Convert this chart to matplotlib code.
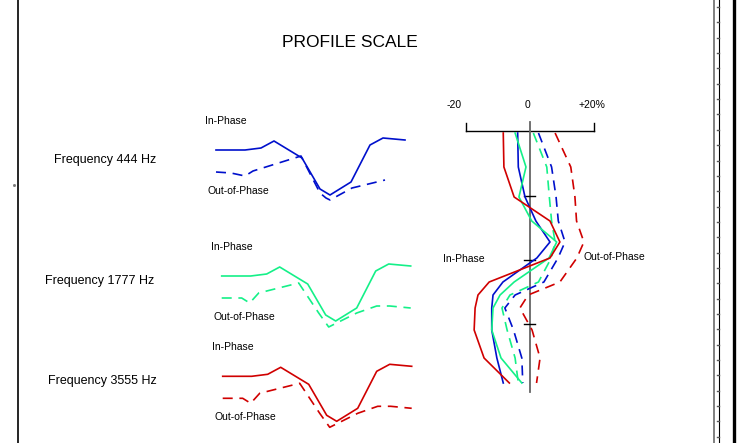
import numpy as np
import matplotlib.pyplot as plt

plt.rcParams['font.family'] = ['Liberation Sans', 'DejaVu Sans']

W, H = 739, 443

# ---- left: profile shapes per frequency (station offset, amplitude)
station_x = [0, 29, 45, 58, 86, 104, 114, 135, 154, 167, 189]
in_phase = [0, 0, 2, 9, -8, -39, -45, -32, 5, 12, 10]

oop_x = [0, 20, 28, 37, 77, 97, 107, 115, 135, 155, 168, 189]
oop_y = [-22, -22, -27, -17, -7, -37, -51, -47, -37, -30, -30, -32]

oop_x_444 = [0, 15, 29, 37, 85, 104, 110, 114, 136, 169]
oop_y_444 = [-22, -23, -26, -21, -6, -43, -48, -50, -38, -30]

freq_labels = ['Frequency 444 Hz', 'Frequency 1777 Hz', 'Frequency 3555 Hz']
colors = ['#0010CC', '#14F088', '#D00000']

# ---- right: profile scale (percent vs depth)
depth = [0, 34, 64, 88, 109, 125, 149, 162, 175, 197, 225, 250]
ip_444 = [-3.7, -3.5, -1.4, 2.0, 6.4, 2.3, -8.3, -11.4, -11.8, -11.8, -10.2, -8.2]
oop_444 = [2.8, 6.9, 8.3, 9.0, 11.1, 8.9, 4.5, -4.5, -7.7, -5.0, -2.4, -2.1]
ip_1777 = [-4.5, -1.1, -3.3, 0.7, 8.5, 6.1, -4.8, -9.2, -11.4, -11.8, -8.9, -2.4]
oop_1777 = [1.2, 5.4, 6.2, 6.9, 8.0, 6.8, 2.8, -6.1, -8.6, -7.0, -4.5, -3.5]
ip_3555 = [-8.2, -8.0, -4.8, 6.4, 9.5, 6.4, -12.6, -16.1, -17.0, -17.3, -14.2, -6.3]
oop_3555 = [8.0, 12.9, 14.2, 14.7, 17.0, 14.8, 9.5, -0.4, -3.0, 0.8, 3.3, 2.2]
scale_ticks = [-20, 0, 20]
scale_labels = ['-20', '0', '+20%']
depth_marks = [63, 127, 191]

DASH = (0, (6, 4))
LW = 1.2


def px_axes(fig, x0, y0, x1, y1, xlim, ylim):
    ax = fig.add_axes([x0 / W, 1 - y1 / H, (x1 - x0) / W, (y1 - y0) / H])
    ax.set_xlim(xlim)
    ax.set_ylim(ylim)
    ax.axis('off')
    return ax


fig = plt.figure(figsize=(W / 100, H / 100), dpi=100)
bg = px_axes(fig, 0, 0, W, H, (0, W), (H, 0))

# frame decorations
bg.plot([18, 18], [0, H], color='black', lw=1.2)
bg.plot([713.5, 713.5], [0, H], color='#808080', lw=1.4)
bg.plot([719, 719], [0, H], color='black', lw=0.8)
for ty in np.arange(7, H, 15.35):
    bg.plot([716.5, 718.5], [ty, ty], color='#555555', lw=1.0)
bg.plot([733.5, 733.5], [0, H], color='black', lw=2.4)
bg.plot([14], [185], marker='s', ms=1, color='#777777')

bg.text(350, 42, 'PROFILE SCALE', fontsize=12.5, ha='center', va='center')

# left panels
origins = [(216, 150), (221.7, 276), (222.7, 376.3)]
freq_pos = [(54, 160), (45, 281), (48, 381)]
oop_sets = [(oop_x_444, oop_y_444), (oop_x, oop_y), (oop_x, oop_y)]
for i in range(3):
    x0, y0 = origins[i]
    ax = px_axes(fig, x0 - 10, y0 - 60, x0 + 200, y0 + 60, (-10, 200), (-60, 60))
    ax.plot(station_x, in_phase, color=colors[i], lw=LW)
    ox, oy = oop_sets[i]
    ax.plot(ox, oy, color=colors[i], lw=LW, linestyle=DASH)
    ax.text(-11, 29, 'In-Phase', fontsize=7.5, ha='left', va='center')
    ax.text(-8, -41, 'Out-of-Phase', fontsize=7.5, ha='left', va='center')
    bg.text(freq_pos[i][0], freq_pos[i][1], freq_labels[i], fontsize=9,
            ha='left', va='center')

# right profile scale
pr = px_axes(fig, 440, 95, 660, 400,
             ((440 - 529.5) / 3.2, (660 - 529.5) / 3.2), (400 - 133, 95 - 133))
pr.plot([-20, 20], [-2, -2], color='black', lw=1.0)
for t in [-20, 20]:
    pr.plot([t, t], [-2, -10], color='black', lw=1.0)
pr.plot([0, 0], [-11, 259], color='#666666', lw=1.3)
for d in depth_marks:
    pr.plot([-1.6, 1.6], [d, d], color='black', lw=1.0)
for t, lab in zip(scale_ticks, scale_labels):
    off = {-20: -3.5, 0: -0.5, 20: -0.5}[t]
    pr.text(t + off, -28, lab, fontsize=7.5, ha='center', va='center')

profiles = [(ip_444, oop_444), (ip_1777, oop_1777), (ip_3555, oop_3555)]
for (ip, oop), c in zip(profiles, colors):
    pr.plot(ip, depth, color=c, lw=LW)
    pr.plot(oop, depth, color=c, lw=LW, linestyle=DASH)

pr.text(-26.9, 126, 'In-Phase', fontsize=7.5, ha='left', va='center')
pr.text(17, 124, 'Out-of-Phase', fontsize=7.5, ha='left', va='center')

fig.savefig('out.png', dpi=100)
